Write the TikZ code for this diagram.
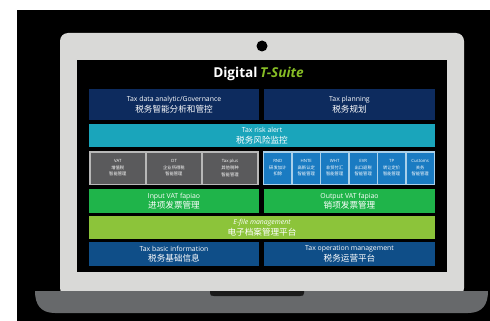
\documentclass[tikz,border=0pt]{standalone}
\usepackage{fontspec}
\setmainfont{Open Sans}
\newfontfamily\cjk{Noto Sans CJK SC}
\definecolor{lidgray}{HTML}{D9D9D7}
\definecolor{basegray}{HTML}{67696B}
\definecolor{notchc}{HTML}{1A1A1A}
\definecolor{navy}{HTML}{0D2B5E}
\definecolor{teal}{HTML}{1AA5BB}
\definecolor{boxgray}{HTML}{5A5A5C}
\definecolor{framegray}{HTML}{B8B8B8}
\definecolor{skyblue}{HTML}{1A7BC2}
\definecolor{framesky}{HTML}{A9D0EA}
\definecolor{vgreen}{HTML}{1FB44A}
\definecolor{lime}{HTML}{8CC43A}
\definecolor{midblue}{HTML}{0F4E88}
\definecolor{tgreen}{HTML}{86BC25}
\newcommand{\entxt}[1]{{\fontsize{6.9}{10.5}\selectfont #1}}
\newcommand{\zhtxt}[1]{{\cjk\fontsize{8.6}{10.5}\selectfont #1}}
\newcommand{\smtxt}[3]{#1\\{\cjk #2}\\{\cjk #3}}
\begin{document}
\begin{tikzpicture}[x=1pt,y=-1pt,
  blk/.style={rectangle, inner sep=0pt, text=white, align=center},
  big/.style={blk, minimum height=#1, font=\fontsize{6.9}{10.5}\selectfont},
  small/.style={blk, minimum height=31pt, font=\fontsize{4.3}{6.6}\selectfont},
  frame/.style={rectangle, inner sep=0pt, minimum height=34pt}]
\useasboundingbox (0,0) rectangle (490,321);
\fill[white] (0,0) rectangle (490,321);
\fill[black] (17,10) rectangle (490,321);
% lid
\fill[lidgray, rounded corners=8pt] (60,296) -- (60,33) -- (464,33) -- (464,296) -- cycle;
\node[fill=black, rectangle, inner sep=0pt, minimum width=370pt, minimum height=212pt] (screen) at (262,166) {};
\node[fill=black, circle, inner sep=0pt, minimum size=11pt] (cam) at (262,46) {};
% base
\fill[basegray] (35,291) -- (488,291) .. controls (488,305) and (482,313) .. (468,313)
  -- (55,313) .. controls (41,313) and (35,305) .. (35,291) -- cycle;
\fill[notchc] (210,291) -- (304,291) -- (304,293) .. controls (304,295.5) and (303,296) .. (300,296)
  -- (214,296) .. controls (211,296) and (210,295.5) .. (210,293) -- cycle;
% title
\node[text=white, inner sep=0pt] (title) at (258.5,74) {\fontsize{13.6}{15}\selectfont\bfseries Digital\hspace{2.5pt}\textcolor{tgreen}{\itshape T-Suite}};
% row 1
\node[big=31pt, fill=navy, minimum width=170pt] (tda) at (174,104.5) {\entxt{Tax data analytic/Governance}\\\zhtxt{税务智能分析和管控}};
\node[big=31pt, fill=navy, minimum width=171pt] (tp) at (349.5,104.5) {\entxt{Tax planning}\\\zhtxt{税务规划}};
% row 2
\node[big=23pt, fill=teal, minimum width=346pt] (risk) at (262,135.5) {\entxt{Tax risk alert}\\\zhtxt{税务风险监控}};
% row 3
\node[frame, fill=framegray, minimum width=170pt] (grpl) at (174,168) {};
\node[frame, fill=framesky, minimum width=172pt] (grpr) at (349,168) {};
\node[small, fill=boxgray, minimum width=54.6pt] (vat) at (117.8,168) {\smtxt{VAT}{增值税}{智能管理}};
\node[small, fill=boxgray, minimum width=54.6pt] (cit) at (173.9,168) {\smtxt{CIT}{企业所得税}{智能管理}};
\node[small, fill=boxgray, minimum width=54.6pt] (plus) at (230.0,168) {\smtxt{Tax plus}{其他税种}{智能管理}};
\foreach \i/\a/\b/\c in {0/RND/研发加计/扣除, 1/HNTE/高新认定/智能管理, 2/WHT/非贸付汇/智能管理, 3/EVR/出口退税/智能管理, 4/TP/转让定价/智能管理, 5/Customs/关务/智能管理}
  \node[small, fill=skyblue, minimum width=27.2pt] (s\i) at (277.8+28.47*\i,168) {\smtxt{\a}{\b}{\c}};
% row 4
\node[big=24pt, fill=vgreen, minimum width=170pt] (inv) at (174,201) {\entxt{Input VAT fapiao}\\\zhtxt{进项发票管理}};
\node[big=24pt, fill=vgreen, minimum width=171pt] (outv) at (349.5,201) {\entxt{Output VAT fapiao}\\\zhtxt{销项发票管理}};
% row 5
\node[big=23pt, fill=lime, minimum width=346pt] (efile) at (262,227.5) {\entxt{\itshape E-file management}\\\zhtxt{电子档案管理平台}};
% row 6
\node[big=24pt, fill=midblue, minimum width=170pt] (basic) at (174,254) {\entxt{Tax basic information}\\\zhtxt{税务基础信息}};
\node[big=24pt, fill=midblue, minimum width=171pt] (oper) at (349.5,254) {\entxt{Tax operation management}\\\zhtxt{税务运营平台}};
\end{tikzpicture}
\end{document}
